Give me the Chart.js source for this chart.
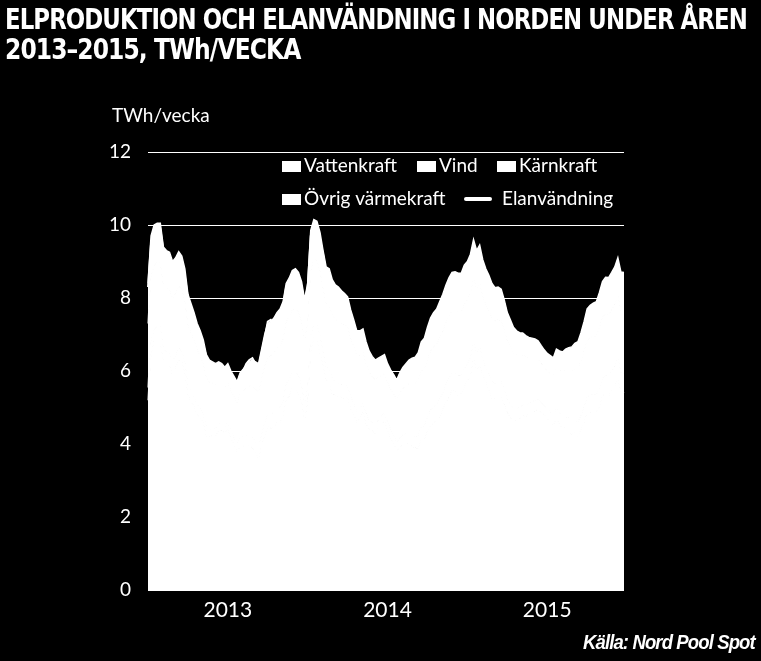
<!DOCTYPE html>
<html>
<head>
<meta charset="utf-8">
<script src="https://cdn.jsdelivr.net/npm/chart.js@4"></script>
<style>
  html, body { margin: 0; padding: 0; background: #000; width: 761px; height: 661px; overflow: hidden; }
  #wrap { position: relative; width: 761px; height: 661px; }
  canvas { position: absolute; left: 0; top: 0; }
  .t { position: absolute; color: #fff; white-space: nowrap; transform-origin: 0 0; }
  #title1, #title2 { font-family: "Liberation Sans Narrow", "DejaVu Sans Condensed", "Liberation Sans", sans-serif; font-weight: bold; font-size: 28px; letter-spacing: -1px; line-height: 30px; }
  #title1 { left: 5px; top: 5px; }
  #title2 { left: 5px; top: 35px; }
  #unit { left: 112px; top: 103px; font-family: Lato, "Open Sans", sans-serif; font-size: 19px; }
  #src { right: 6px; top: 630px; font-family: "Liberation Sans Narrow", "Liberation Sans", sans-serif; font-weight: bold; font-style: italic; font-size: 21px; letter-spacing: -1px; transform-origin: 100% 0; }
</style>
</head>
<body>
<div id="wrap">
  <canvas id="c" width="761" height="661"></canvas>
  <div class="t" id="title1">ELPRODUKTION OCH ELANVÄNDNING I NORDEN UNDER ÅREN</div>
  <div class="t" id="title2">2013–2015, TWh/VECKA</div>
  <div class="t" id="unit">TWh/vecka</div>
  <div class="t" id="src">Källa: Nord Pool Spot</div>
</div>
<script>
// ---- Data (TWh per week, weeks 1–52 of 2013, 2014, 2015) ----
const years = ["2013", "2014", "2015"];
const weeksPerYear = 52;

// Total production
const totalProduktion = [
  8.4,9.7,10.0,10.05,10.05,9.4,9.3,9.25,9.0,9.1, 9.27,9.15,8.8,8.1,7.85,7.6,7.3,7.1,6.85,6.45,
  6.3,6.25,6.2,6.25,6.2,6.1,6.2,6.0,5.85,5.7, 5.95,6.05,6.15,6.25,6.3,6.25,6.2,6.6,7.0,7.3,
  7.35,7.45,7.6,7.7,7.9,8.4,8.55,8.75,8.8,8.7, 8.45,7.95,
  8.4,9.85,10.15,10.1,9.8,9.3,8.85,8.8,8.5,8.36, 8.3,8.2,8.12,8.03,7.67,7.4,7.1,7.1,7.15,6.8,
  6.55,6.4,6.3,6.35,6.4,6.45,6.2,6.03,5.9,5.75, 5.95,6.1,6.2,6.3,6.35,6.38,6.5,6.8,6.9,7.2,
  7.45,7.6,7.7,7.9,8.1,8.35,8.55,8.7,8.72,8.68, 8.68,8.9,
  9.0,9.2,9.6,9.3,9.45,9.05,8.8,8.62,8.4,8.28, 8.3,8.24,7.95,7.6,7.4,7.2,7.1,7.05,7.04,6.97,
  6.92,6.9,6.88,6.83,6.7,6.58,6.48,6.42,6.36,6.6, 6.55,6.52,6.6,6.64,6.66,6.76,6.8,7.05,7.35,7.7,
  7.8,7.86,7.9,8.15,8.45,8.57,8.56,8.7,8.85,9.1, 8.71,8.7
];

const vind = [
  0.35,0.42,0.30,0.38,0.45,0.33,0.28,0.36,0.40,0.31, 0.34,0.29,0.32,0.27,0.30,0.25,0.28,0.24,0.22,0.26,
  0.21,0.19,0.23,0.18,0.20,0.17,0.19,0.22,0.18,0.21, 0.24,0.26,0.23,0.28,0.30,0.27,0.33,0.31,0.36,0.34,
  0.39,0.42,0.37,0.45,0.40,0.44,0.48,0.41,0.46,0.50, 0.43,0.47,
  0.40,0.46,0.38,0.44,0.50,0.36,0.33,0.41,0.45,0.35, 0.37,0.33,0.36,0.30,0.34,0.29,0.31,0.27,0.25,0.29,
  0.24,0.22,0.26,0.21,0.23,0.20,0.22,0.25,0.21,0.24, 0.27,0.29,0.26,0.31,0.33,0.30,0.36,0.34,0.39,0.37,
  0.42,0.46,0.40,0.49,0.44,0.48,0.52,0.45,0.50,0.54, 0.47,0.51,
  0.45,0.52,0.42,0.49,0.55,0.41,0.38,0.46,0.50,0.40, 0.42,0.37,0.40,0.34,0.38,0.33,0.35,0.31,0.29,0.33,
  0.28,0.26,0.30,0.25,0.27,0.24,0.26,0.29,0.25,0.28, 0.31,0.33,0.30,0.35,0.37,0.34,0.40,0.38,0.43,0.41,
  0.46,0.50,0.44,0.53,0.48,0.52,0.56,0.49,0.54,0.58, 0.51,0.55
];

const karnkraft = [
  1.75,1.75,1.76,1.74,1.75,1.73,1.74,1.72,1.72,1.70, 1.70,1.68,1.66,1.64,1.60,1.55,1.50,1.45,1.40,1.35,
  1.30,1.25,1.20,1.15,1.10,1.10,1.08,1.10,1.12,1.15, 1.20,1.25,1.30,1.35,1.40,1.45,1.50,1.52,1.55,1.58,
  1.60,1.62,1.65,1.66,1.68,1.70,1.70,1.72,1.72,1.73, 1.74,1.74,
  1.76,1.77,1.77,1.76,1.76,1.75,1.74,1.74,1.73,1.72, 1.71,1.69,1.67,1.64,1.60,1.56,1.51,1.46,1.41,1.36,
  1.31,1.26,1.21,1.16,1.12,1.10,1.09,1.10,1.13,1.16, 1.21,1.26,1.31,1.36,1.41,1.46,1.50,1.53,1.56,1.59,
  1.61,1.63,1.65,1.67,1.69,1.70,1.71,1.72,1.73,1.74, 1.74,1.75,
  1.75,1.76,1.76,1.75,1.75,1.74,1.73,1.72,1.71,1.70, 1.69,1.67,1.64,1.61,1.57,1.52,1.47,1.42,1.37,1.32,
  1.27,1.22,1.17,1.12,1.08,1.05,1.04,1.05,1.08,1.12, 1.17,1.22,1.27,1.32,1.37,1.42,1.46,1.50,1.53,1.56,
  1.58,1.60,1.62,1.64,1.66,1.67,1.68,1.69,1.70,1.70, 1.71,1.71
];

const ovrigVarmekraft = [
  1.10,1.12,1.10,1.08,1.09,1.05,1.04,1.02,1.00,0.98, 0.95,0.92,0.88,0.84,0.80,0.76,0.72,0.68,0.65,0.62,
  0.60,0.58,0.56,0.55,0.54,0.53,0.53,0.54,0.55,0.56, 0.58,0.60,0.63,0.66,0.70,0.74,0.78,0.82,0.86,0.90,
  0.93,0.96,0.99,1.01,1.03,1.05,1.06,1.07,1.08,1.09, 1.10,1.10,
  1.08,1.10,1.09,1.07,1.06,1.03,1.01,0.99,0.97,0.95, 0.92,0.89,0.85,0.81,0.77,0.73,0.69,0.66,0.63,0.60,
  0.58,0.56,0.54,0.53,0.52,0.51,0.51,0.52,0.53,0.54, 0.56,0.58,0.61,0.64,0.68,0.72,0.76,0.80,0.84,0.88,
  0.91,0.94,0.97,0.99,1.01,1.03,1.04,1.05,1.06,1.07, 1.08,1.08,
  1.05,1.07,1.06,1.04,1.03,1.00,0.98,0.96,0.94,0.92, 0.89,0.86,0.82,0.78,0.74,0.70,0.66,0.63,0.60,0.57,
  0.55,0.53,0.51,0.50,0.49,0.48,0.48,0.49,0.50,0.51, 0.53,0.55,0.58,0.61,0.65,0.69,0.73,0.77,0.81,0.85,
  0.88,0.91,0.94,0.96,0.98,1.00,1.01,1.02,1.03,1.04, 1.05,1.05
];

const elanvandning = [
  8.3,9.5,9.8,9.9,9.9,9.3,9.2,9.1,8.9,9.0, 9.1,9.0,8.6,8.0,7.7,7.4,7.1,6.9,6.7,6.4,
  6.2,6.1,6.1,6.1,6.1,6.0,6.1,5.9,5.8,5.65, 5.9,6.0,6.2,6.3,6.35,6.2,6.1,6.5,6.9,7.35,
  7.4,7.3,7.5,7.6,7.8,8.3,8.4,8.6,8.7,8.6, 8.3,7.9,
  8.3,9.7,10.0,9.9,9.6,9.2,8.7,8.6,8.4,8.2, 8.2,8.1,8.0,7.9,7.5,7.3,7.0,6.95,7.0,6.7,
  6.45,6.3,6.2,6.25,6.3,6.35,6.1,5.95,5.85,5.7, 5.9,6.0,6.1,6.2,6.25,6.3,6.4,6.7,6.8,7.1,
  7.35,7.5,7.6,7.8,8.0,8.2,8.4,8.6,8.6,8.55, 8.55,8.8,
  8.9,9.1,9.4,9.2,9.3,8.9,8.7,8.5,8.3,8.15, 8.2,8.1,7.85,7.5,7.3,7.1,7.0,6.95,6.9,6.85,
  6.8,6.8,6.75,6.7,6.6,6.45,6.35,6.3,6.25,6.45, 6.45,6.4,6.5,6.5,6.55,6.65,6.7,6.95,7.25,7.6,
  7.7,7.75,7.8,8.05,8.35,8.45,8.45,8.6,8.75,8.95, 8.6,8.6
];

// Hydro = total production minus the other three sources
const vattenkraft = totalProduktion.map((t, i) =>
  +(t - vind[i] - karnkraft[i] - ovrigVarmekraft[i]).toFixed(2));

const weekLabels = [];
years.forEach(y => { for (let w = 1; w <= weeksPerYear; w++) weekLabels.push(y + " v" + w); });
const yTicks = [0, 2, 4, 6, 8, 10, 12];

// ---- Chart ----
const WHITE = "#ffffff";
const tickFont = { family: "Lato, 'Open Sans', sans-serif", size: 19 };
const xTickFont = { family: "Lato, 'Open Sans', sans-serif", size: 21 };

const areaDs = (label, data, fill) => ({
  label, data, stack: "prod", fill,
  backgroundColor: WHITE, borderColor: WHITE, borderWidth: 1.5,
  pointRadius: 0, tension: 0
});

const legendPlugin = {
  id: "customLegend",
  afterDraw(chart) {
    const ctx = chart.ctx;
    const items = [
      { ds: 0, x: 282, y: 166 },
      { ds: 1, x: 417, y: 166 },
      { ds: 2, x: 497, y: 166 },
      { ds: 3, x: 282, y: 199 },
      { ds: 4, x: 466, y: 199, line: true }
    ];
    ctx.save();
    ctx.font = "19px Lato, 'Open Sans', sans-serif";
    ctx.textBaseline = "middle";
    ctx.fillStyle = WHITE;
    ctx.strokeStyle = WHITE;
    items.forEach(it => {
      const label = chart.data.datasets[it.ds].label;
      if (it.line) {
        ctx.lineWidth = 4;
        ctx.lineCap = "round";
        ctx.beginPath(); ctx.moveTo(it.x, it.y); ctx.lineTo(it.x + 24, it.y); ctx.stroke();
        ctx.fillText(label, it.x + 36, it.y);
      } else {
        ctx.fillRect(it.x, it.y - 5, 19, 11);
        ctx.fillText(label, it.x + 22, it.y);
      }
    });
    ctx.restore();
  }
};

new Chart(document.getElementById("c"), {
  type: "line",
  data: {
    labels: weekLabels,
    datasets: [
      areaDs("Vattenkraft", vattenkraft, "origin"),
      areaDs("Vind", vind, "-1"),
      areaDs("Kärnkraft", karnkraft, "-1"),
      areaDs("Övrig värmekraft", ovrigVarmekraft, "-1"),
      {
        label: "Elanvändning", data: elanvandning, stack: "cons", fill: false,
        borderColor: WHITE, borderWidth: 2, pointRadius: 0, tension: 0
      }
    ]
  },
  options: {
    responsive: false,
    animation: false,
    devicePixelRatio: 1,
    layout: { padding: { top: 152, right: 137, bottom: 0, left: 0 } },
    plugins: { legend: { display: false }, tooltip: { enabled: false }, title: { display: false } },
    elements: { line: { borderJoinStyle: "miter" } },
    scales: {
      x: {
        type: "category",
        offset: false,
        grid: { display: false, drawTicks: false },
        border: { display: false },
        ticks: {
          autoSkip: false, maxRotation: 0, minRotation: 0, padding: 8,
          color: WHITE, font: xTickFont,
          callback: (v, i) => (i % weeksPerYear === weeksPerYear / 2) ? years[Math.floor(i / weeksPerYear)] : ""
        },
        afterFit: s => { s.height = 71; }
      },
      y: {
        stacked: true,
        min: 0, max: 12,
        afterBuildTicks: s => { s.ticks = yTicks.map(v => ({ value: v })); },
        grid: { color: WHITE, lineWidth: 1, drawTicks: false },
        border: { display: false },
        ticks: { color: WHITE, font: tickFont, padding: 17 },
        afterFit: s => { s.width = 148; }
      }
    }
  },
  plugins: [legendPlugin]
});

// Fit title widths to the reference layout
function fit(id, w) {
  const el = document.getElementById(id);
  const cur = el.scrollWidth;
  if (cur > 0) el.style.transform = "scaleX(" + (w / cur) + ")";
}
fit("title1", 742);
fit("title2", 295);
fit("src", 172);
</script>
</body>
</html>
